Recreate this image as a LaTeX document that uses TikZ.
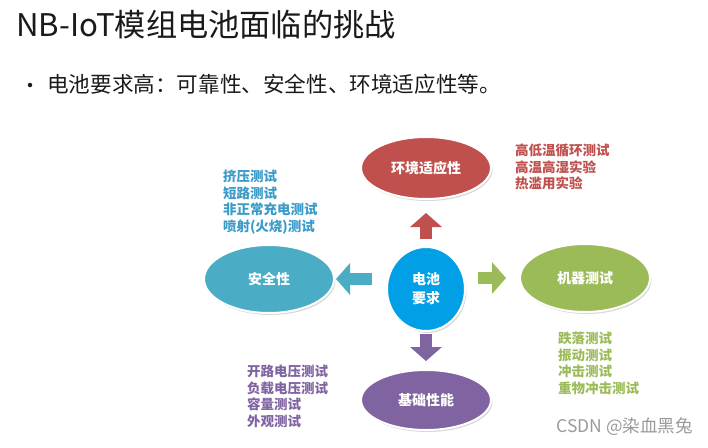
\documentclass[tikz,border=0pt]{standalone}
\usepackage{fontspec}
\setmainfont{Noto Sans CJK SC}
\usepackage{xcolor}
\usepackage{tikz}
\usetikzlibrary{positioning,shapes.geometric,arrows.meta,shadows}
\definecolor{ink}{HTML}{1A1A1A}
\definecolor{envred}{HTML}{C0504D}
\definecolor{safeblue}{HTML}{4BACC6}
\definecolor{safetext}{HTML}{3A9AC8}
\definecolor{corebl}{HTML}{009FE6}
\definecolor{machgrn}{HTML}{9BBB59}
\definecolor{basepur}{HTML}{8064A2}
\definecolor{wmgray}{HTML}{9A9A9A}
\tikzset{
  topic/.style    = {ellipse, draw=white, line width=2pt, inner sep=0pt, minimum width=130pt, minimum height=62pt,
                     font=\fontsize{14}{17}\selectfont\bfseries\color{white},
                     drop shadow={opacity=0.3, shadow xshift=1.5pt, shadow yshift=-2pt}},
  corenode/.style = {topic, minimum width=78pt, minimum height=84pt, align=center, font=\fontsize{14}{19}\selectfont\bfseries\color{white}},
  blk/.style      = {-{Triangle[length=14pt,width=31pt]}, line width=12pt},
  testlist/.style = {font=\fontsize{13.5}{16.5}\selectfont\bfseries, align=left, anchor=north west, inner sep=0pt, outer sep=0pt},
}

\begin{document}
\begin{tikzpicture}[x=1pt,y=-1pt]
\path[use as bounding box] (0,0) rectangle (708,447);

% ---- heading ------------------------------------------------------------
\node[anchor=west, inner sep=0pt, font=\fontsize{31.2}{35}\selectfont\color{ink}] (title) at (16,25) {NB-IoT模组电池面临的挑战};
\node[circle, fill=ink, inner sep=0pt, minimum size=4.5pt] (dot) at (30,85) {};
\node[anchor=west, inner sep=0pt, font=\fontsize{21.6}{24}\selectfont\color{ink}] (claim) at (47,84) {电池要求高：可靠性、安全性、环境适应性等。};

% ---- the five topics ----------------------------------------------------
\node[corenode, fill=corebl] (core) at (426,289) {电池\\要求};
\node[topic, fill=envred] (env) at (426,168) {环境适应性};
\node[topic, fill=safeblue, minimum height=68pt] (safe) at (269,279) {安全性};
\node[topic, fill=machgrn, minimum height=68pt] (mach) at (585,278) {机器测试};
\node[topic, fill=basepur, minimum height=60pt] (base) at (426,400) {基础性能};

\draw[blk, envred, shorten <=7pt, shorten >=13pt] (core.north) -- (env.south);
\draw[blk, safeblue, shorten <=14pt, shorten >=1pt] (core.west |- safe.east) -- (safe.east);
\draw[blk, machgrn, shorten <=12pt, shorten >=13pt] (core.east |- mach.west) -- (mach.west);
\draw[blk, basepur, shorten <=2pt, shorten >=8pt] (core.south) -- (base.north);

% ---- the tests ----------------------------------------------------------
\node[testlist, text=envred] (envlist) at (515,144) {高低温循环测试\\高温高湿实验\\热滥用实验};
\node[testlist, text=safetext] (safelist) at (223,170) {挤压测试\\短路测试\\非正常充电测试\\喷射(火烧)测试};
\node[testlist, text=machgrn] (machlist) at (558,332) {跌落测试\\振动测试\\冲击测试\\重物冲击测试};
\node[testlist, text=basepur] (baselist) at (247,365) {开路电压测试\\负载电压测试\\容量测试\\外观测试};

\node[anchor=east, inner sep=0pt, font=\fontsize{17.5}{20}\selectfont\color{wmgray}] (wm) at (693,427) {CSDN @染血黑兔};

\end{tikzpicture}
\end{document}
